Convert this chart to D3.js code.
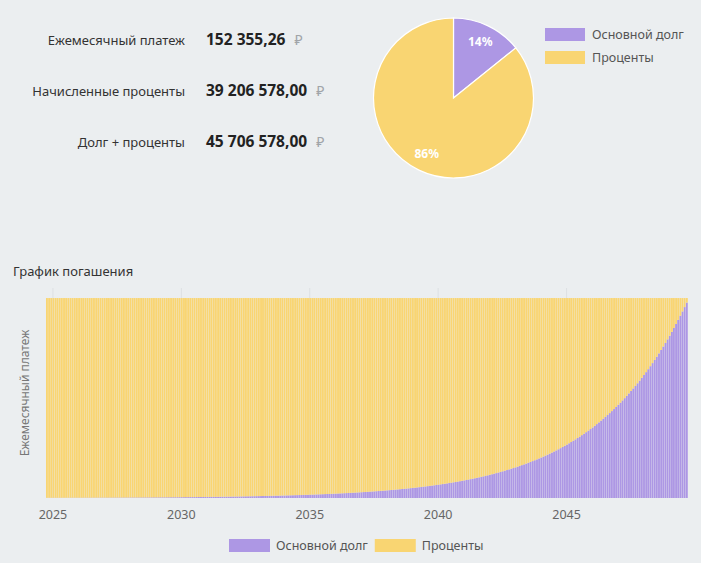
<!DOCTYPE html>
<html>
<head>
<meta charset="utf-8">
<script src="https://cdn.jsdelivr.net/npm/d3@7"></script>
<style>
  body { margin: 0; background: #ebeef0; }
  svg { display: block; font-family: "Noto Sans", "Open Sans", sans-serif; }
</style>
</head>
<body>
<svg></svg>
<script>
// Summary figures
const summaryLabels = ["Ежемесячный платеж", "Начисленные проценты", "Долг + проценты"];
const summaryValues = ["152 355,26", "39 206 578,00", "45 706 578,00"];

// Pie: principal vs interest
const seriesNames = ["Основной долг", "Проценты"];
const pieValues = [6500000, 39206578];
const colors = ["#ad97e4", "#f9d572"];

// Repayment schedule: monthly payment and principal part of each month (Oct 2024 .. Sep 2049)
const monthlyPayment = 152355.26;
const principal = [
  147, 150, 154, 157, 161, 165, 169, 173, 177, 181, 185, 190,
  194, 199, 203, 208, 213, 218, 223, 228, 233, 239, 244, 250,
  256, 262, 268, 274, 281, 287, 294, 301, 308, 315, 323, 330,
  338, 346, 354, 362, 371, 380, 388, 398, 407, 416, 426, 436,
  446, 457, 467, 478, 490, 501, 513, 525, 537, 550, 563, 576,
  589, 603, 617, 632, 646, 661, 677, 693, 709, 726, 743, 760,
  778, 796, 815, 834, 853, 873, 894, 915, 936, 958, 980, 1003,
  1027, 1051, 1076, 1101, 1126, 1153, 1180, 1208, 1236, 1265, 1294, 1325,
  1356, 1387, 1420, 1453, 1487, 1522, 1558, 1594, 1631, 1670, 1709, 1749,
  1790, 1832, 1875, 1918, 1963, 2009, 2056, 2105, 2154, 2204, 2256, 2309,
  2363, 2418, 2475, 2533, 2592, 2653, 2715, 2778, 2843, 2910, 2978, 3048,
  3119, 3192, 3267, 3343, 3422, 3502, 3584, 3668, 3754, 3842, 3932, 4024,
  4118, 4214, 4313, 4414, 4517, 4623, 4731, 4842, 4956, 5072, 5190, 5312,
  5436, 5564, 5694, 5827, 5964, 6103, 6246, 6392, 6542, 6695, 6852, 7013,
  7177, 7345, 7517, 7693, 7873, 8057, 8246, 8439, 8637, 8839, 9046, 9258,
  9475, 9696, 9924, 10156, 10394, 10637, 10886, 11141, 11402, 11669, 11942, 12222,
  12508, 12801, 13101, 13408, 13722, 14043, 14372, 14708, 15053, 15405, 15766, 16135,
  16513, 16899, 17295, 17700, 18115, 18539, 18973, 19417, 19872, 20337, 20814, 21301,
  21800, 22310, 22833, 23367, 23914, 24474, 25048, 25634, 26234, 26849, 27477, 28121,
  28779, 29453, 30143, 30849, 31571, 32311, 33067, 33841, 34634, 35445, 36275, 37124,
  37994, 38883, 39794, 40726, 41679, 42655, 43654, 44677, 45723, 46793, 47889, 49011,
  50158, 51333, 52535, 53765, 55024, 56312, 57631, 58981, 60362, 61775, 63222, 64702,
  66217, 67768, 69355, 70979, 72641, 74342, 76083, 77865, 79688, 81554, 83464, 85418,
  87418, 89465, 91560, 93704, 95899, 98144, 100443, 102795, 105202, 107665, 110186, 112767,
  115407, 118110, 120876, 123706, 126603, 129567, 132602, 135707, 138884, 142137, 145465, 148871
];
const tickYears = [2025, 2030, 2035, 2040, 2045];

const W = 701, H = 563;
const svg = d3.select("svg").attr("width", W).attr("height", H);

// ---- summary block ----
const summary = svg.append("g");
summaryLabels.forEach((lab, i) => {
  const y = 45 + i * 51;
  summary.append("text").attr("x", 185).attr("y", y)
    .attr("text-anchor", "end").attr("font-size", 13).attr("fill", "#333").text(lab);
  const v = summary.append("text").attr("x", 206).attr("y", y).attr("font-size", 15.5);
  v.append("tspan").attr("font-weight", "bold").attr("fill", "#222").text(summaryValues[i]);
  v.append("tspan").attr("dx", 9).attr("fill", "#a0a4a8").attr("font-size", 14).text("₽");
});

// ---- pie ----
const pie = d3.pie().sort(null)(pieValues);
const arc = d3.arc().innerRadius(0).outerRadius(80);
const labelArc = d3.arc().innerRadius(62).outerRadius(62);
const pg = svg.append("g").attr("transform", "translate(453.5,98)");
pg.selectAll("path").data(pie).join("path")
  .attr("d", arc).attr("fill", (d, i) => colors[i])
  .attr("stroke", "#fff").attr("stroke-width", 1.2);
const total = d3.sum(pieValues);
pg.selectAll("text").data(pie).join("text")
  .attr("transform", d => `translate(${labelArc.centroid(d)})`)
  .attr("text-anchor", "middle").attr("dy", "0.35em")
  .attr("fill", "#fff").attr("font-size", 12).attr("font-weight", "bold")
  .text(d => Math.round(d.value / total * 100) + "%");

// pie legend
const pl = svg.append("g").attr("transform", "translate(545,28)");
seriesNames.forEach((n, i) => {
  pl.append("rect").attr("x", 0).attr("y", i * 23).attr("width", 40).attr("height", 13).attr("fill", colors[i]);
  pl.append("text").attr("x", 47).attr("y", i * 23 + 11).attr("font-size", 12.5).attr("fill", "#555").text(n);
});

// ---- repayment chart ----
svg.append("text").attr("x", 13).attr("y", 276).attr("font-size", 13).attr("fill", "#333").text("График погашения");

const months = principal.map((p, i) => d3.timeMonth.offset(new Date(2024, 9, 1), i));
const rows = months.map((m, i) => ({ date: m, principal: principal[i], interest: monthlyPayment - principal[i] }));
const stack = d3.stack().keys(["principal", "interest"])(rows);

const x = d3.scaleTime()
  .domain([months[0], d3.timeMonth.offset(months[months.length - 1], 1)])
  .range([46, 688]);
const y = d3.scaleLinear().domain([0, 160000]).range([498, 288]);

// vertical grid
const grid = svg.append("g").attr("transform", "translate(0,498)")
  .call(d3.axisBottom(x).tickValues(tickYears.map(yr => new Date(yr, 0, 1))).tickSize(-210).tickFormat(""));
grid.select(".domain").remove();
grid.selectAll("line").attr("stroke", "#dde0e3");

const bw = (x(months[1]) - x(months[0])) * 0.86;
svg.append("g").selectAll("g").data(stack).join("g")
  .attr("fill", (d, i) => colors[i])
  .selectAll("rect").data(d => d).join("rect")
  .attr("x", d => x(d.data.date))
  .attr("y", d => y(d[1]))
  .attr("width", bw)
  .attr("height", d => y(d[0]) - y(d[1]));

// x axis labels
const xa = svg.append("g").attr("transform", "translate(0,498)")
  .call(d3.axisBottom(x).tickValues(tickYears.map(yr => new Date(yr, 0, 1))).tickSize(0).tickPadding(12).tickFormat(d3.timeFormat("%Y")));
xa.select(".domain").remove();
xa.selectAll("text").attr("font-size", 12.5).attr("fill", "#666").attr("font-family", "Noto Sans, sans-serif");

// y axis title
svg.append("text").attr("transform", "translate(29,393) rotate(-90)")
  .attr("text-anchor", "middle").attr("font-size", 12).attr("fill", "#777").text("Ежемесячный платеж");

// bottom legend
const bl = svg.append("g").attr("transform", "translate(229,539)");
let lx = 0;
seriesNames.forEach((n, i) => {
  bl.append("rect").attr("x", lx).attr("y", 0).attr("width", 41).attr("height", 13).attr("fill", colors[i]);
  const t = bl.append("text").attr("x", lx + 47).attr("y", 11).attr("font-size", 12.5).attr("fill", "#555").text(n);
  lx += 47 + t.node().getComputedTextLength() + 7;
});
</script>
</body>
</html>
